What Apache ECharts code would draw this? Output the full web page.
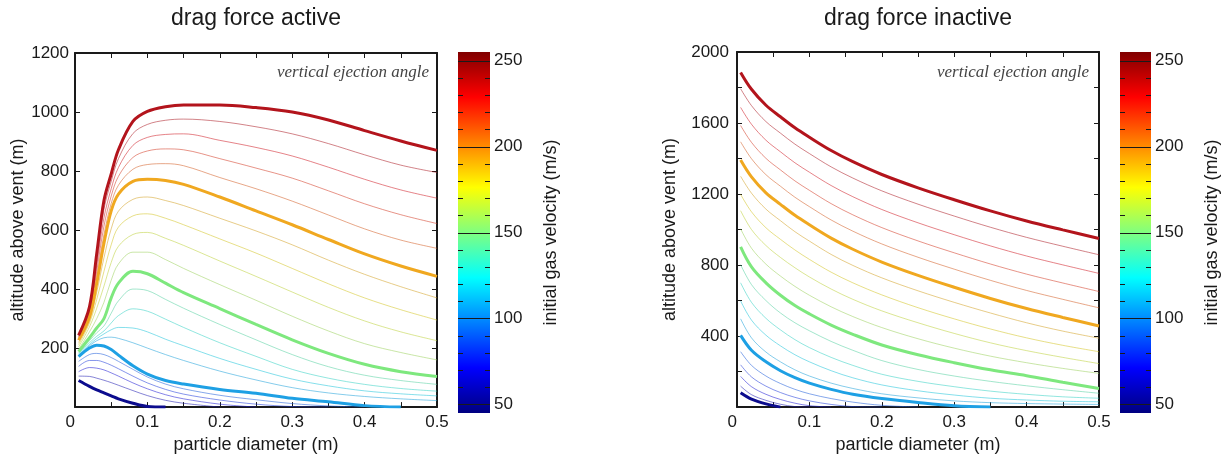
<!DOCTYPE html>
<html>
<head>
<meta charset="utf-8">
<script src="https://cdn.jsdelivr.net/npm/echarts@6/dist/echarts.min.js"></script>
<style>
html,body{margin:0;padding:0;background:#fff;}
#chart{width:1224px;height:459px;}
</style>
</head>
<body>
<div id="chart"></div>
<script>
// ---------- data ----------
const velocities = [50, 60, 70, 80, 90, 100, 110, 120, 130, 140, 150, 160, 170, 180, 190, 200, 210, 220, 230, 240, 250];
const majorVelocities = [50, 100, 150, 200, 250];

// particle diameter (m) sample points
const diamActive = [0.005, 0.02, 0.03, 0.04, 0.05, 0.06, 0.08, 0.1, 0.125, 0.15, 0.2, 0.25, 0.3, 0.35, 0.4, 0.45, 0.5];
const diamInactive = [0.005, 0.02, 0.04, 0.06, 0.08, 0.1, 0.13, 0.16, 0.2, 0.25, 0.3, 0.35, 0.4, 0.45, 0.5];

// drag force active: altitude above vent (m)
const active50  = [90, 70, 58, 48, 38, 28, 13, 2, 0];
const active60  = [105, 104, 98, 91, 83, 74, 56, 39, 23, 13, 0];
const active70  = [120, 134, 132, 126, 116, 105, 82, 62, 42, 28, 10, 0];
const active80  = [138, 158, 158, 152, 142, 130, 105, 82, 60, 44, 24, 10, 2, 0];
const active90  = [155, 178, 182, 178, 168, 155, 128, 102, 78, 62, 40, 25, 12, 4, 0];
const active100 = [171, 200, 210, 207, 195, 176, 140, 112, 90, 78, 60, 47, 30, 18, 5, 0];
const active110 = [175, 208, 225, 235, 237, 233, 218, 200, 178, 158, 122, 92, 66, 48, 36, 28, 22];
const active120 = [178, 212, 232, 248, 262, 270, 268, 255, 230, 208, 165, 128, 95, 72, 55, 45, 38];
const active130 = [182, 218, 240, 258, 285, 310, 333, 325, 298, 270, 218, 172, 128, 98, 77, 63, 54];
const active140 = [185, 225, 252, 275, 318, 360, 400, 395, 365, 335, 280, 228, 178, 137, 108, 90, 77];
const active150 = [188, 235, 268, 300, 370, 420, 460, 452, 420, 388, 334, 280, 228, 182, 145, 120, 104];
const active160 = [196, 255, 300, 355, 430, 485, 525, 525, 500, 470, 415, 362, 308, 258, 215, 185, 160];
const active170 = [204, 272, 335, 410, 490, 545, 585, 592, 572, 548, 495, 443, 390, 338, 292, 255, 225];
const active180 = [212, 285, 365, 460, 550, 610, 648, 655, 640, 618, 570, 522, 470, 418, 370, 330, 295];
const active190 = [219, 293, 390, 506, 604, 664, 704, 712, 700, 683, 640, 597, 550, 498, 450, 408, 370];
const active200 = [227, 305, 420, 555, 665, 722, 765, 772, 768, 755, 712, 665, 618, 568, 519, 478, 443];
const active210 = [230, 312, 440, 584, 690, 752, 806, 822, 825, 818, 778, 740, 698, 651, 604, 566, 538];
const active220 = [233, 319, 460, 613, 715, 782, 846, 868, 875, 872, 842, 810, 776, 733, 689, 652, 622];
const active230 = [237, 326, 480, 642, 740, 812, 887, 914, 924, 926, 904, 880, 851, 813, 772, 736, 708];
const active240 = [240, 333, 500, 671, 765, 842, 927, 958, 972, 976, 968, 950, 926, 893, 855, 820, 795];
const active250 = [243, 340, 520, 700, 790, 872, 968, 1002, 1018, 1024, 1024, 1015, 1000, 973, 937, 902, 870];

// drag force inactive: altitude above vent (m)
const inactive50  = [81, 45, 18, 0];
const inactive60  = [118, 70, 38, 16, 3, 0];
const inactive70  = [173, 115, 72, 43, 22, 8, 0];
const inactive80  = [238, 170, 118, 82, 55, 35, 15, 3, 0];
const inactive90  = [312, 235, 175, 133, 100, 75, 48, 28, 10, 0];
const inactive100 = [404, 320, 255, 205, 166, 135, 100, 72, 48, 26, 8, 0];
const inactive110 = [497, 390, 310, 255, 210, 175, 135, 105, 75, 52, 35, 25, 20, 17, 15];
const inactive120 = [598, 490, 405, 345, 295, 255, 205, 165, 125, 92, 68, 50, 40, 33, 30];
const inactive130 = [700, 590, 500, 435, 380, 335, 280, 235, 185, 145, 115, 90, 72, 58, 50];
const inactive140 = [802, 690, 600, 530, 475, 430, 370, 320, 262, 212, 175, 145, 120, 98, 78];
const inactive150 = [903, 790, 700, 630, 572, 525, 462, 410, 350, 295, 250, 210, 177, 140, 105];
const inactive160 = [1004, 895, 805, 738, 680, 630, 565, 510, 448, 385, 332, 287, 250, 218, 190];
const inactive170 = [1106, 1000, 910, 843, 785, 733, 665, 607, 542, 475, 415, 362, 318, 280, 245];
const inactive180 = [1198, 1100, 1010, 945, 885, 832, 760, 700, 632, 560, 497, 440, 390, 348, 312];
const inactive190 = [1300, 1205, 1115, 1050, 988, 935, 860, 798, 728, 655, 590, 530, 475, 428, 388];
const inactive200 = [1392, 1297, 1207, 1142, 1080, 1027, 952, 889, 817, 742, 675, 612, 555, 505, 457];
const inactive210 = [1494, 1399, 1309, 1244, 1182, 1129, 1054, 991, 919, 844, 777, 714, 657, 607, 559];
const inactive220 = [1586, 1491, 1401, 1336, 1274, 1221, 1146, 1083, 1011, 936, 869, 806, 749, 699, 651];
const inactive230 = [1688, 1593, 1503, 1438, 1376, 1323, 1248, 1185, 1113, 1038, 971, 908, 851, 801, 753];
const inactive240 = [1793, 1698, 1608, 1543, 1481, 1428, 1353, 1290, 1218, 1143, 1076, 1013, 956, 906, 858];
const inactive250 = [1885, 1790, 1700, 1635, 1573, 1520, 1445, 1382, 1310, 1235, 1168, 1105, 1048, 998, 950];

const activeValues = [active50, active60, active70, active80, active90, active100, active110, active120, active130, active140, active150, active160, active170, active180, active190, active200, active210, active220, active230, active240, active250];
const inactiveValues = [inactive50, inactive60, inactive70, inactive80, inactive90, inactive100, inactive110, inactive120, inactive130, inactive140, inactive150, inactive160, inactive170, inactive180, inactive190, inactive200, inactive210, inactive220, inactive230, inactive240, inactive250];

// colorbar
const colorbarMin = 45;
const colorbarMax = 255;
const colorbarLabels = [50, 100, 150, 200, 250];
const colorbarMinorTicks = [60, 70, 80, 90, 110, 120, 130, 140, 160, 170, 180, 190, 210, 220, 230, 240];

// text
const titleActive = 'drag force active';
const titleInactive = 'drag force inactive';
const noteText = 'vertical ejection angle';
const xName = 'particle diameter (m)';
const yName = 'altitude above vent (m)';
const cbName = 'initial gas velocity (m/s)';

// ---------- styles ----------
const FONT = '"Liberation Sans", Arial, sans-serif';
const INK = '#1a1a1a';
const thickColors = {50: '#0c0c8e', 100: '#1ea0e4', 150: '#7ee87e', 200: '#f0a820', 250: '#b3141c'};

function jet(v) {
  const t = (v - colorbarMin) / (colorbarMax - colorbarMin);
  const c = x => Math.max(0, Math.min(1, x));
  return [c(1.5 - Math.abs(4 * t - 3)), c(1.5 - Math.abs(4 * t - 2)), c(1.5 - Math.abs(4 * t - 1))].map(x => x * 255);
}
function thinColor(v) {
  const j = jet(v);
  const grey = [110, 100, 130];
  const m = j.map((x, i) => Math.round(0.7 * x + 0.3 * grey[i]));
  return 'rgba(' + m.join(',') + ',0.55)';
}

const jetStops = [
  {offset: 0, color: 'rgb(0,0,128)'},
  {offset: 0.125, color: 'rgb(0,0,255)'},
  {offset: 0.375, color: 'rgb(0,255,255)'},
  {offset: 0.625, color: 'rgb(255,255,0)'},
  {offset: 0.875, color: 'rgb(255,0,0)'},
  {offset: 1, color: 'rgb(128,0,0)'}
];

function buildSeries(xs, lists, xi, yi) {
  return velocities.map((v, k) => {
    const major = majorVelocities.indexOf(v) >= 0;
    return {
      type: 'line',
      name: v + ' m/s',
      xAxisIndex: xi,
      yAxisIndex: yi,
      data: lists[k].map((y, j) => [xs[j], y]),
      showSymbol: false,
      smooth: 0.35,
      silent: true,
      emphasis: {disabled: true},
      lineStyle: {width: major ? 3 : 1, color: major ? thickColors[v] : thinColor(v)},
      z: major ? 4 : 2
    };
  });
}

function colorbarSeries(xi, yi) {
  return {
    type: 'custom',
    xAxisIndex: xi,
    yAxisIndex: yi,
    silent: true,
    clip: false,
    data: [[0, colorbarMin]],
    renderItem: function (params, api) {
      const cs = params.coordSys;
      const yTop = api.coord([0, colorbarMax])[1];
      const yBot = api.coord([0, colorbarMin])[1];
      const children = [{
        type: 'rect',
        shape: {x: cs.x, y: yTop, width: cs.width, height: yBot - yTop},
        style: {fill: new echarts.graphic.LinearGradient(0, 1, 0, 0, jetStops)}
      }];
      colorbarMinorTicks.forEach(v => {
        const y = Math.round(api.coord([0, v])[1]) + 0.5;
        children.push({type: 'line', shape: {x1: cs.x, y1: y, x2: cs.x + 5, y2: y}, style: {stroke: INK, lineWidth: 1}});
        children.push({type: 'line', shape: {x1: cs.x + cs.width - 5, y1: y, x2: cs.x + cs.width, y2: y}, style: {stroke: INK, lineWidth: 1}});
      });
      colorbarLabels.forEach(v => {
        const y = Math.round(api.coord([0, v])[1]) + 0.5;
        children.push({type: 'line', shape: {x1: cs.x, y1: y, x2: cs.x + cs.width, y2: y}, style: {stroke: INK, lineWidth: 1}});
      });
      return {type: 'group', children: children};
    }
  };
}

const axisLineStyle = {onZero: false, lineStyle: {color: INK, width: 2}};
const tickStyle = {inside: true, length: 5, lineStyle: {color: INK, width: 1}};
const labelStyle = {fontSize: 17, color: INK, fontFamily: FONT};
const nameStyle = {fontSize: 18, color: INK, fontFamily: FONT};

function xAxes(grid) {
  return [
    {
      type: 'value', gridIndex: grid, position: 'bottom', min: 0, max: 0.5, interval: 0.1,
      axisLine: axisLineStyle, axisTick: tickStyle,
      minorTick: {show: true, splitNumber: 2, length: 5, lineStyle: {color: INK, width: 1}},
      splitLine: {show: false},
      axisLabel: Object.assign({margin: 7, alignMinLabel: 'right', formatter: v => String(Math.round(v * 10) / 10)}, labelStyle),
      name: xName, nameLocation: 'middle', nameGap: 24, nameTextStyle: nameStyle
    },
    {
      type: 'value', gridIndex: grid, position: 'top', min: 0, max: 0.5, interval: 0.1,
      axisLine: axisLineStyle, axisTick: tickStyle,
      minorTick: {show: true, splitNumber: 2, length: 5, lineStyle: {color: INK, width: 1}},
      splitLine: {show: false}, axisLabel: {show: false}
    }
  ];
}
function yAxes(grid, max, interval, minorSplit, gap, margin) {
  const minor = {show: minorSplit > 1, splitNumber: minorSplit, length: 5, lineStyle: {color: INK, width: 1}};
  return [
    {
      type: 'value', gridIndex: grid, position: 'left', min: 0, max: max, interval: interval,
      axisLine: axisLineStyle, axisTick: tickStyle, minorTick: minor, splitLine: {show: false},
      axisLabel: Object.assign({margin: margin, showMinLabel: false, formatter: v => String(v)}, labelStyle),
      name: yName, nameLocation: 'middle', nameGap: gap, nameTextStyle: nameStyle
    },
    {
      type: 'value', gridIndex: grid, position: 'right', min: 0, max: max, interval: interval,
      axisLine: axisLineStyle, axisTick: tickStyle, minorTick: minor, splitLine: {show: false},
      axisLabel: {show: false}
    }
  ];
}
function cbXAxis(grid) {
  return {type: 'value', gridIndex: grid, min: 0, max: 1, show: false};
}
function cbYAxis(grid) {
  return {
    type: 'value', gridIndex: grid, position: 'right', min: colorbarMin, max: colorbarMax,
    axisLine: {show: false}, axisTick: {show: false}, splitLine: {show: false},
    axisLabel: Object.assign({margin: 4, customValues: colorbarLabels, formatter: v => String(v)}, labelStyle),
    name: cbName, nameLocation: 'middle', nameRotate: 90, nameGap: 52, nameTextStyle: nameStyle
  };
}

const chart = echarts.init(document.getElementById('chart'), null, {renderer: 'canvas'});
chart.setOption({
  animation: false,
  backgroundColor: '#fff',
  grid: [
    {left: 75, top: 53, width: 362, height: 360},
    {left: 737, top: 52, width: 362, height: 361},
    {left: 458, top: 52, width: 32, height: 361},
    {left: 1120, top: 52, width: 31, height: 361}
  ],
  xAxis: [].concat(xAxes(0), xAxes(1), [cbXAxis(2), cbXAxis(3)]),
  yAxis: [].concat(yAxes(0, 1200, 200, 0, 48, 6), yAxes(1, 2000, 400, 2, 58, 8), [cbYAxis(2), cbYAxis(3)]),
  graphic: [
    {type: 'text', x: 256, y: 19, style: {text: titleActive, font: '23px ' + FONT, fill: INK, align: 'center', verticalAlign: 'middle'}},
    {type: 'text', x: 918, y: 19, style: {text: titleInactive, font: '23px ' + FONT, fill: INK, align: 'center', verticalAlign: 'middle'}},
    {type: 'text', x: 429, y: 73, style: {text: noteText, font: 'italic 17px "Liberation Serif", "Times New Roman", serif', fill: '#444', align: 'right', verticalAlign: 'middle'}},
    {type: 'text', x: 1089, y: 73, style: {text: noteText, font: 'italic 17px "Liberation Serif", "Times New Roman", serif', fill: '#444', align: 'right', verticalAlign: 'middle'}}
  ],
  series: [].concat(
    buildSeries(diamActive, activeValues, 0, 0),
    buildSeries(diamInactive, inactiveValues, 2, 2),
    [colorbarSeries(4, 4), colorbarSeries(5, 5)]
  )
});
</script>
</body>
</html>
